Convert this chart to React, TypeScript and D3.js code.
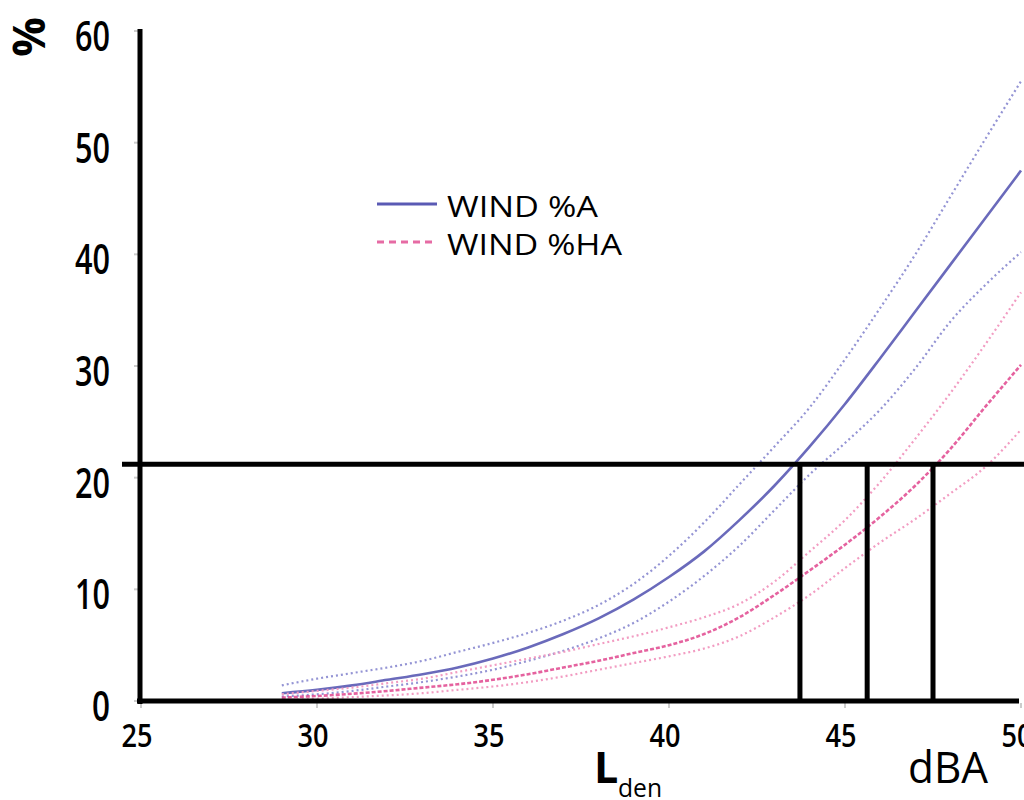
import React from "react";
import * as d3 from "d3";

const lden = [29, 30, 31, 32, 33, 34, 35, 36, 37, 38, 39, 40, 41, 42, 43, 44, 45, 46, 47, 48, 49, 50];
const windA = [0.7, 1.0, 1.4, 1.9, 2.4, 3.0, 3.8, 4.8, 6.0, 7.4, 9.1, 11.1, 13.4, 16.2, 19.3, 22.8, 26.6, 30.7, 34.9, 39.1, 43.3, 47.5];
const windAUpper = [1.4, 2.0, 2.5, 3.0, 3.6, 4.4, 5.2, 6.1, 7.2, 8.6, 10.5, 13.0, 16.0, 19.4, 22.8, 26.3, 30.6, 35.2, 40.0, 45.2, 50.4, 55.5];
const windALower = [0.4, 0.6, 0.9, 1.3, 1.7, 2.2, 2.8, 3.6, 4.5, 5.6, 7.0, 8.9, 11.2, 13.9, 17.1, 20.3, 23.1, 26.1, 29.8, 34.0, 37.3, 40.2];
const windHA = [0.3, 0.45, 0.65, 0.9, 1.2, 1.5, 1.9, 2.4, 3.0, 3.6, 4.3, 5.0, 6.0, 7.5, 9.5, 11.7, 14.0, 16.5, 19.3, 22.6, 26.4, 30.1];
const windHAUpper = [0.6, 0.9, 1.2, 1.6, 2.0, 2.6, 3.2, 3.8, 4.4, 5.1, 5.8, 6.6, 7.5, 8.7, 10.7, 13.4, 16.2, 19.6, 23.5, 27.6, 32.0, 36.6];
const windHALower = [0.1, 0.2, 0.35, 0.5, 0.7, 1.0, 1.3, 1.7, 2.2, 2.8, 3.4, 4.0, 4.7, 5.8, 7.5, 9.5, 11.9, 14.2, 16.3, 18.6, 21.0, 24.3];

const xTicks = [25, 30, 35, 40, 45, 50];
const yTicks = [0, 10, 20, 30, 40, 50, 60];
const thresholdY = 21.2;
const thresholdXs = [43.72, 45.63, 47.5];
const legendLabels = ["WIND %A", "WIND %HA"];

export default function App() {
  const x = d3.scaleLinear().domain([25, 50]).range([141, 1021]);
  const y = d3.scaleLinear().domain([0, 60]).range([701, 31]);
  const line = (vals: number[]) =>
    d3
      .line<number>()
      .x((_, i) => x(lden[i]))
      .y((v) => y(v))
      .curve(d3.curveMonotoneX)(vals) as string;

  const blue = "#5a5ab4";
  const blueLight = "#9494d4";
  const pink = "#e0478e";
  const pinkLight = "#f29cc2";
  const font = "'Open Sans', sans-serif";

  return (
    <div style={{ position: "absolute", left: 0, top: 0 }}>
      <svg width={1024} height={800} style={{ display: "block", background: "#fff" }}>
        {/* curves */}
        <path d={line(windAUpper)} fill="none" stroke={blueLight} strokeWidth={2.2} strokeDasharray="2 3" />
        <path d={line(windALower)} fill="none" stroke={blueLight} strokeWidth={2.2} strokeDasharray="2 3" />
        <path d={line(windA)} fill="none" stroke={blue} strokeWidth={2.6} opacity={0.9} />
        <path d={line(windHAUpper)} fill="none" stroke={pinkLight} strokeWidth={2.2} strokeDasharray="2 3" />
        <path d={line(windHALower)} fill="none" stroke={pinkLight} strokeWidth={2.2} strokeDasharray="2 3" />
        <path d={line(windHA)} fill="none" stroke={pink} strokeWidth={2.6} strokeDasharray="4 2" opacity={0.85} />

        {/* small ticks */}
        {yTicks.map((t) => (
          <line key={"yt" + t} x1={134} x2={139} y1={y(t)} y2={y(t)} stroke="#ccc" strokeWidth={2} />
        ))}
        {xTicks.map((t) => (
          <line key={"xt" + t} x1={x(t)} x2={x(t)} y1={703} y2={708} stroke="#ccc" strokeWidth={2} />
        ))}

        {/* axes */}
        <line x1={140} x2={140} y1={29} y2={704} stroke="#000" strokeWidth={5} />
        <line x1={137} x2={1019} y1={y(0)} y2={y(0)} stroke="#000" strokeWidth={5} />

        {/* threshold lines */}
        <line x1={122} x2={1024} y1={y(thresholdY)} y2={y(thresholdY)} stroke="#000" strokeWidth={5} />
        {thresholdXs.map((v) => (
          <line key={"tv" + v} x1={x(v)} x2={x(v)} y1={y(thresholdY)} y2={y(0)} stroke="#000" strokeWidth={5} />
        ))}

        {/* y tick labels */}
        {yTicks.map((t) => (
          <text
            key={"yl" + t}
            x={110}
            y={y(t) + 20}
            textAnchor="end"
            fontFamily={font}
            fontWeight={600}
            fontSize={41}
            textLength={String(t).length > 1 ? 35 : 18}
            lengthAdjust="spacingAndGlyphs"
          >
            {t}
          </text>
        ))}
        {/* x tick labels */}
        {xTicks.map((t) => (
          <text
            key={"xl" + t}
            x={x(t) - 4}
            y={747}
            textAnchor="middle"
            fontFamily={font}
            fontWeight={600}
            fontSize={32}
            textLength={31}
            lengthAdjust="spacingAndGlyphs"
          >
            {t}
          </text>
        ))}

        {/* y axis title */}
        <text
          transform="translate(45,37) rotate(-90)"
          textAnchor="middle"
          fontFamily={font}
          fontWeight={700}
          fontSize={44}
        >
          %
        </text>

        {/* x axis title */}
        <text x={594} y={783} fontFamily={font} fontWeight={700} fontSize={43}>
          L
        </text>
        <text x={618} y={797} fontFamily={font} fontSize={26} textLength={44} lengthAdjust="spacingAndGlyphs">
          den
        </text>
        <text x={908} y={783} fontFamily={font} fontSize={44} textLength={80} lengthAdjust="spacingAndGlyphs">
          dBA
        </text>

        {/* legend */}
        <line x1={377} x2={437} y1={204} y2={204} stroke={blue} strokeWidth={3} />
        <text x={447} y={217} fontFamily={font} fontSize={30} textLength={151} lengthAdjust="spacingAndGlyphs">
          {legendLabels[0]}
        </text>
        <line x1={377} x2={437} y1={242} y2={242} stroke={pink} strokeWidth={3} strokeDasharray="7 5" opacity={0.8} />
        <text x={447} y={255} fontFamily={font} fontSize={30} textLength={175} lengthAdjust="spacingAndGlyphs">
          {legendLabels[1]}
        </text>
      </svg>
    </div>
  );
}
